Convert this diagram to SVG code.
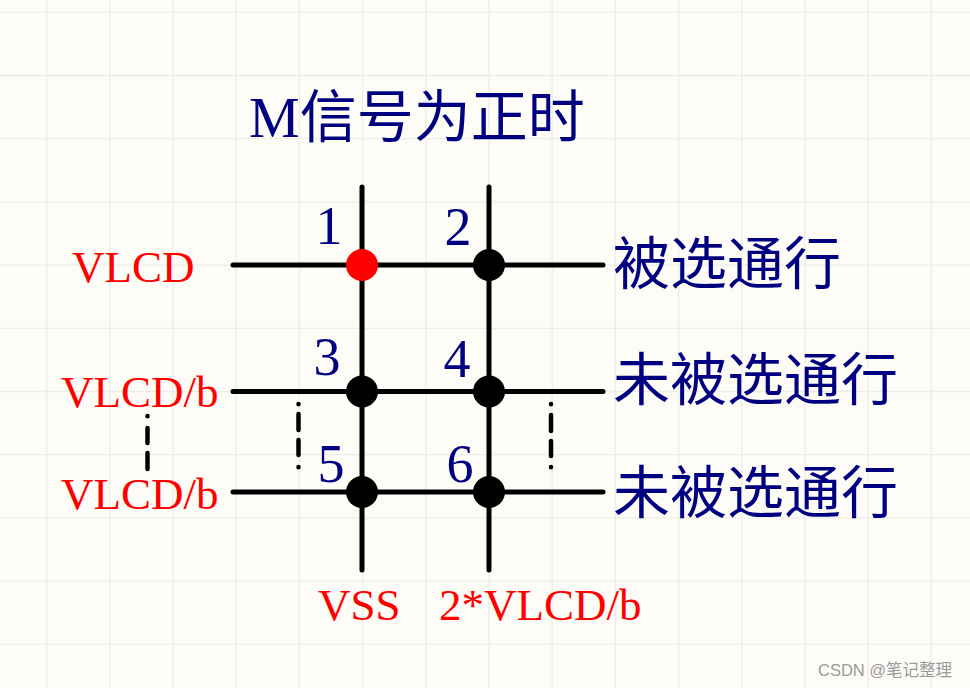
<svg xmlns="http://www.w3.org/2000/svg" width="970" height="688" viewBox="0 0 970 688">
<style>
.grid{stroke:#eeece7;stroke-width:1.3;fill:none}
.wire{stroke:#000;stroke-width:5;stroke-linecap:round;fill:none}
.dash{stroke:#000;stroke-width:4.5;stroke-linecap:round;fill:none}
.red{fill:#ff0000;font-family:"Liberation Serif","Times New Roman",serif;font-size:45px}
.num{fill:#000080;font-family:"Liberation Serif","Times New Roman",serif;font-size:54px;text-anchor:middle}
.cjk{fill:#000080;font-family:"Noto Sans CJK SC","Noto Sans",sans-serif;font-size:57px}
.wm{fill:#9a9a9a;font-family:"Liberation Sans","Noto Sans CJK SC",sans-serif;font-size:16.5px}
</style>
<rect width="970" height="688" fill="#fdfcf7"/>
<path class="grid" d="M46.6 0V688M109.8 0V688M173 0V688M236.2 0V688M299.4 0V688M362.6 0V688M425.8 0V688M489 0V688M552.2 0V688M615.4 0V688M678.6 0V688M741.8 0V688M805 0V688M868.2 0V688M931.4 0V688M0 12.3H970M0 75.5H970M0 138.7H970M0 201.9H970M0 265.1H970M0 328.3H970M0 391.5H970M0 454.7H970M0 517.9H970M0 581.1H970M0 644.3H970"/>
<g id="connectors">
<path class="wire" d="M362 187V570M489 187V570M233 265H603M233 391.5H603M233 492H603"/>
<path class="dash" d="M298.5 404V404.2M298.5 414V430M298.5 440V455M298.5 467V467.2"/>
<path class="dash" d="M551 404V404.2M551 415V431M551 441V456M551 467V467.2"/>
<path class="dash" d="M147.5 416V416.2M147.5 428V443M147.5 453V469"/>
</g>
<g id="title"><text class="cjk" x="249" y="137"><tspan style="font-family:'Liberation Serif','Times New Roman',serif">M</tspan>信号为正时</text></g>
<g id="n1"><circle cx="362" cy="265" r="16" fill="#ff0000"/><text class="num" x="329" y="244">1</text></g>
<g id="n2"><circle cx="489" cy="265" r="16" fill="#000"/><text class="num" x="458" y="245">2</text></g>
<g id="n3"><circle cx="362" cy="391.5" r="16" fill="#000"/><text class="num" x="327" y="374.5">3</text></g>
<g id="n4"><circle cx="489" cy="391.5" r="16" fill="#000"/><text class="num" x="457" y="376.5">4</text></g>
<g id="n5"><circle cx="362" cy="492" r="16" fill="#000"/><text class="num" x="331" y="481.7">5</text></g>
<g id="n6"><circle cx="489" cy="492" r="16" fill="#000"/><text class="num" x="460" y="481.7">6</text></g>
<g id="labels-left">
<text class="red" x="72" y="282">VLCD</text>
<text class="red" x="61" y="407">VLCD/b</text>
<text class="red" x="61" y="509">VLCD/b</text>
</g>
<g id="labels-bottom">
<text class="red" x="318" y="620">VSS</text>
<text class="red" x="439" y="620">2*VLCD/b</text>
</g>
<g id="labels-right">
<text class="cjk" x="613" y="284">被选通行</text>
<text class="cjk" x="613" y="400">未被选通行</text>
<text class="cjk" x="613" y="513">未被选通行</text>
</g>
<text class="wm" x="818" y="676">CSDN @笔记整理</text>
</svg>
